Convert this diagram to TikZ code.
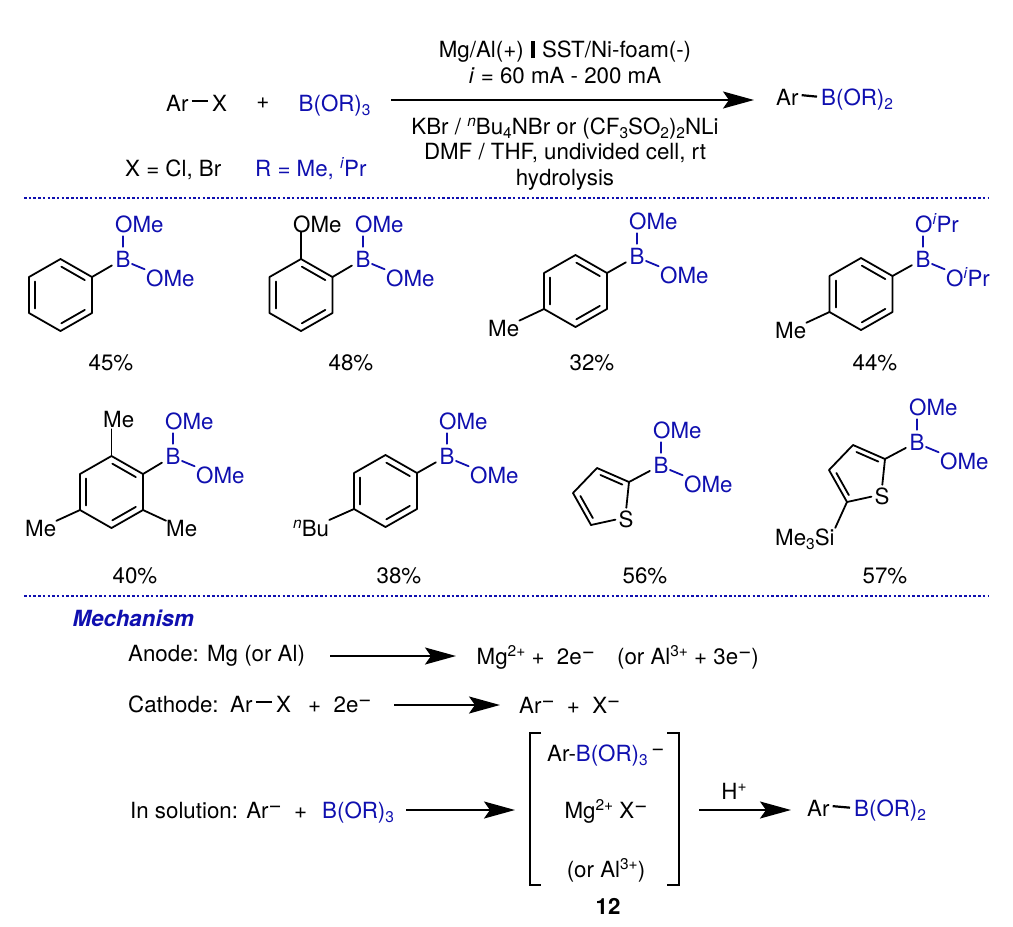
\documentclass[tikz,border=0pt]{standalone}
\usepackage{fontspec}
\setmainfont{TeX Gyre Heros}
\usetikzlibrary{arrows.meta,calc}
\definecolor{boronblue}{RGB}{15,15,175}
\newcommand{\sub}[1]{\raisebox{-4.5pt}{\fontsize{15.5}{15.5}\selectfont #1}}
\newcommand{\sups}[1]{\raisebox{8pt}{\fontsize{15.5}{15.5}\selectfont #1}}
\newcommand{\supminus}{\raisebox{5.5pt}{−}}
\tikzset{
  every node/.style={font=\fontsize{22.3}{26}\selectfont},
  lbl/.style={inner sep=0pt,anchor=base west},
  clbl/.style={inner sep=0pt,anchor=base},
  atom/.style={inner sep=0pt,text height=16pt,text depth=0pt},
  bond/.style={line width=1.8pt,line join=round,line cap=round},
  sbond/.style={line width=2.2pt,shorten <=3pt,shorten >=4pt},
  bbond/.style={bond,boronblue,shorten <=4pt,shorten >=4pt},
  rxn/.style={line width=2pt,-{Stealth[length=31pt,width=17pt,inset=6pt]}},
  sep/.style={boronblue,line width=2pt,dash pattern=on 2.5pt off 2.2pt},
  bracket/.style={line width=2pt}
}
% benzene ring: name, centre
\newcommand{\benzene}[2]{
  \coordinate (#1c) at (#2);
  \foreach \i/\dx/\dy in {1/0/-36,2/31.5/-18,3/31.5/18,4/0/36,5/-31.5/18,6/-31.5/-18}
    \coordinate (#1r\i) at ($(#2)+(\dx,\dy)$);
  \draw[bond] (#1r1) -- (#1r2) -- (#1r3) -- (#1r4) -- (#1r5) -- (#1r6) -- cycle;
  \foreach \a/\b in {1/2,3/4,5/6}
    \draw[bond,shorten <=1pt,shorten >=1pt] ($(#1c)!.8!(#1r\a)$) -- ($(#1c)!.8!(#1r\b)$);
}
% thiophene: name, C2
\newcommand{\thienyl}[2]{
  \coordinate (#1c2) at (#2);
  \coordinate (#1c3) at ($(#2)+(-32,-14)$);
  \coordinate (#1c4) at ($(#2)+(-56,11)$);
  \coordinate (#1c5) at ($(#2)+(-38,43)$);
  \coordinate (#1c) at ($(#2)+(-24,17)$);
  \node[atom] (#1s) at ($(#2)+(-3,37)$) {S};
  \draw[bond,shorten >=3pt] (#1c5) -- (#1c4) -- (#1c3) -- (#1c2) -- (#1s.north);
  \draw[bond,shorten >=3pt] (#1c5) -- (#1s.west);
  \foreach \a/\b in {2/3,4/5}
    \draw[bond,shorten <=2pt,shorten >=2pt] ($(#1c)!.8!(#1c\a)$) -- ($(#1c)!.8!(#1c\b)$);
}
% B(OR)2 group: name, position of B, OR text, ring atom
\newcommand{\boryl}[4]{
  \node[atom,boronblue] (#1b) at (#2) {B};
  \node[atom,boronblue,anchor=west] (#1o) at ($(#2)+(-8,-35)$) {#3};
  \node[atom,boronblue,anchor=west] (#1p) at ($(#2)+(23,19)$) {#3};
  \draw[bbond] (#1b.north) -- (#1b.north |- #1o.south);
  \draw[bond,boronblue,shorten <=1.5pt,shorten >=1.5pt] (#1b.-30) -- (#1p.north west);
  \draw[bond,shorten >=4pt] (#4) -- (#1b);
}
\begin{document}
\begin{tikzpicture}[x=1pt,y=-1pt]
  \useasboundingbox (0,0) rectangle (1013,927);

  % Top reaction
  \node[lbl] (ar1) at (166,111) {Ar};
  \node[lbl] (x1) at (212,111) {X};
  \draw[sbond] ([yshift=2pt]ar1.east) -- ([yshift=2pt]x1.west);
  \node[clbl] (plus1) at (263,108) {+};
  \node[lbl,boronblue] (bor1) at (298.5,111) {B(OR)\sub{3}};
  \coordinate (rxnA) at (391,100);
  \coordinate (rxnB) at (754,100);
  \draw[rxn] (rxnA) -- (rxnB);
  \node[clbl] (cond1) at (565,57) {Mg/Al(+)\,\,\rule[-1pt]{3.5pt}{17pt}\,\,SST/Ni-foam(-)};
  \node[clbl] (cond2) at (565,83) {\textit{i} = 60 mA - 200 mA};
  \node[clbl] (cond3) at (565,134) {KBr / \sups{\textit{n}}Bu\sub{4}NBr or (CF\sub{3}SO\sub{2})\sub{2}NLi};
  \node[clbl] (cond4) at (565,159) {DMF / THF, undivided cell, rt};
  \node[clbl] (cond5) at (565,185) {hydrolysis};
  \node[lbl] (ar2) at (776,105) {Ar};
  \node[lbl,boronblue] (bor2) at (821,105) {B(OR)\sub{2}};
  \draw[sbond] ([yshift=2pt]ar2.east) -- ([yshift=2pt]bor2.west);
  \node[lbl] (xdef) at (125,176) {X = Cl, Br};
  \node[lbl,boronblue] (rdef) at (255,176) {R = Me, \sups{\textit{i}}Pr};

  % Separators
  \coordinate (sepA) at (24,198);
  \coordinate (sepB) at (988,198);
  \coordinate (sepC) at (24,596);
  \coordinate (sepD) at (988,596);
  \draw[sep] (sepA) -- (sepB);
  \draw[sep] (sepC) -- (sepD);

  % First row
  \benzene{m1}{60.5,295}
  \boryl{m1}{123,259}{OMe}{m1r2}
  \benzene{m2}{301,295}
  \boryl{m2}{363,259}{OMe}{m2r2}
  \node[atom,anchor=west] (m2ome) at (293,224) {OMe};
  \draw[bond] (m2r1) -- (m2r1 |- m2ome.south);
  \benzene{m3}{575.5,291}
  \boryl{m3}{637,256}{OMe}{m3r2}
  \node[atom,anchor=west] (m3me) at (488,328) {Me};
  \draw[bond] (m3r5) -- (m3me);
  \benzene{m4}{861,294}
  \boryl{m4}{923,259}{O\sups{\textit{i}}Pr}{m4r2}
  \node[atom,anchor=west] (m4me) at (775,330) {Me};
  \draw[bond] (m4r5) -- (m4me);

  % Second row
  \benzene{m5}{111.5,492}
  \boryl{m5}{173,456}{OMe}{m5r2}
  \node[atom,anchor=west] (m5mea) at (103,419) {Me};
  \node[atom,anchor=west] (m5meb) at (25,528) {Me};
  \node[atom,anchor=west] (m5mec) at (166,528) {Me};
  \draw[bond,shorten >=2pt] (m5r1) -- (m5r1 |- m5mea.south);
  \draw[bond] (m5r5) -- (m5meb);
  \draw[bond] (m5r3) -- (m5mec);
  \benzene{m6}{385.5,491}
  \boryl{m6}{447,456}{OMe}{m6r2}
  \node[atom,anchor=west] (m6bu) at (293,528) {\sups{\textit{n}}Bu};
  \draw[bond] (m6r5) -- (m6bu);
  \thienyl{m7}{629,482}
  \boryl{m7}{661,465}{OMe}{m7c2}
  \thienyl{m8}{885,459}
  \boryl{m8}{917,442}{OMe}{m8c2}
  \node[atom,anchor=west] (m8si) at (775,537) {Me\sub{3}Si};
  \draw[bond,shorten >=1pt] (m8c5) -- (m8si.north east);

  % Yields
  \foreach \n/\x/\y/\t in {1/111/362/45,2/351/362/48,3/592/362/32,4/875/362/44,
                           5/135/575/40,6/399/575/38,7/645/575/56,8/885/575/57}
    \node[atom] (yld\n) at (\x,\y) {\t\%};

  % Mechanism
  \node[lbl,boronblue] (mech) at (72.5,626) {\textbf{\textit{Mechanism}}};
  \node[lbl] (anode) at (128,661) {Anode: Mg (or Al)};
  \coordinate (rxnC) at (330,656);
  \coordinate (rxnD) at (456,656);
  \draw[rxn] (rxnC) -- (rxnD);
  \node[lbl] (anodep) at (476.5,664) {Mg\sups{2+} +\ \ 2e\supminus\ \ \ \,(or Al\sups{3+} + 3e\supminus)};

  \node[lbl] (cath) at (128,712) {Cathode:};
  \node[lbl] (ar3) at (230,712) {Ar};
  \node[lbl] (x3) at (276,712) {X};
  \draw[sbond] ([yshift=2pt]ar3.east) -- ([yshift=2pt]x3.west);
  \node[lbl] (cathb) at (308,712) {+\ \ 2e\supminus};
  \coordinate (rxnE) at (394,705);
  \coordinate (rxnF) at (500,705);
  \draw[rxn] (rxnE) -- (rxnF);
  \node[lbl] (cathp) at (519,713) {Ar\supminus\ \ +\ \ X\supminus};

  \node[lbl] (sol) at (130,818) {In solution: Ar\supminus\ \ +};
  \node[lbl,boronblue] (bor3) at (322,818) {B(OR)\sub{3}};
  \coordinate (rxnG) at (406,810);
  \coordinate (rxnH) at (515,810);
  \draw[rxn] (rxnG) -- (rxnH);
  \draw[bracket] (541,733) -- (530,733) -- (530,885) -- (541,885);
  \draw[bracket] (667,733) -- (679,733) -- (679,885) -- (667,885);
  \node[lbl] (ate) at (547,761) {Ar-\textcolor{boronblue}{B(OR)\sub{3}}\,\supminus};
  \node[clbl] (mgx) at (606,818) {Mg\sups{2+} X\supminus};
  \node[clbl] (alx) at (606,877) {(or Al\sups{3+})};
  \node[clbl] (cpd) at (608,914) {\textbf{12}};
  \coordinate (rxnI) at (699,810);
  \coordinate (rxnJ) at (791,810);
  \draw[rxn] (rxnI) -- (rxnJ);
  \node[clbl] (hplus) at (734,799) {H\sups{+}};
  \node[lbl] (ar4) at (807,816) {Ar};
  \node[lbl,boronblue] (bor4) at (854,816) {B(OR)\sub{2}};
  \draw[sbond] ([yshift=2pt]ar4.east) -- ([yshift=2pt]bor4.west);
\end{tikzpicture}
\end{document}
